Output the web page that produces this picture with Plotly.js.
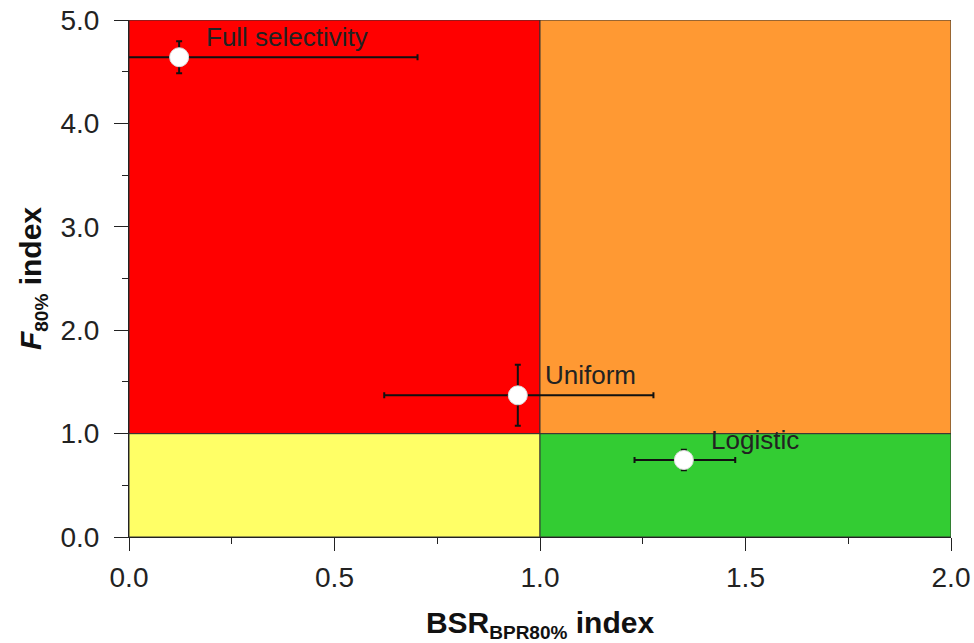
<!DOCTYPE html>
<html><head><meta charset="utf-8">
<script src="https://cdn.plot.ly/plotly-3.0.1.min.js"></script>
<style>html,body{margin:0;padding:0;background:#fff}#c{width:974px;height:643px}</style>
</head><body><div id="c"></div>
<script>
const names = ["Full selectivity", "Uniform", "Logistic"];
const bsr = [0.122, 0.946, 1.35];
const bsrErrPlus = [0.58, 0.33, 0.125];
const bsrErrMinus = [0.15, 0.325, 0.12];
const f80 = [4.64, 1.37, 0.745];
const f80Err = [0.155, 0.295, 0.1];
const xRange = [0, 2];
const yRange = [0, 5];
const xThreshold = 1;
const yThreshold = 1;
const zoneColors = {lowLeft: "#FFFF66", lowRight: "#33CC33", highLeft: "#FF0000", highRight: "#FF9933"};

const zoneLine = {color: "#333", width: 1};
const shapes = [
  {type: "rect", xref: "x", yref: "y", x0: xRange[0], x1: xThreshold, y0: yRange[0], y1: yThreshold, fillcolor: zoneColors.lowLeft, line: zoneLine, layer: "below"},
  {type: "rect", xref: "x", yref: "y", x0: xThreshold, x1: xRange[1], y0: yRange[0], y1: yThreshold, fillcolor: zoneColors.lowRight, line: zoneLine, layer: "below"},
  {type: "rect", xref: "x", yref: "y", x0: xRange[0], x1: xThreshold, y0: yThreshold, y1: yRange[1], fillcolor: zoneColors.highLeft, line: zoneLine, layer: "below"},
  {type: "rect", xref: "x", yref: "y", x0: xThreshold, x1: xRange[1], y0: yThreshold, y1: yRange[1], fillcolor: zoneColors.highRight, line: zoneLine, layer: "below"}
];

const trace = {
  type: "scatter", mode: "markers",
  x: bsr, y: f80,
  marker: {color: "#ffffff", size: 19, line: {color: "#dddddd", width: 1}},
  error_x: {type: "data", symmetric: false, array: bsrErrPlus, arrayminus: bsrErrMinus, color: "#111", thickness: 2, width: 3},
  error_y: {type: "data", array: f80Err, color: "#111", thickness: 2, width: 3},
  hoverinfo: "skip"
};

const fam = "Liberation Sans, Arial, sans-serif";
const annotations = names.map((n, i) => ({
  x: bsr[i], y: f80[i], xref: "x", yref: "y", text: n, showarrow: false,
  xanchor: "left", yanchor: "middle", xshift: 25, yshift: 20,
  font: {family: fam, size: 26, color: "#222"}
}));

const tickFont = {family: fam, size: 28, color: "#222"};
const layout = {
  width: 974, height: 643,
  margin: {l: 129, r: 23, t: 20, b: 106},
  paper_bgcolor: "#fff", plot_bgcolor: "#fff",
  showlegend: false,
  shapes: shapes,
  annotations: annotations,
  xaxis: {
    range: xRange, dtick: 0.5, tick0: 0, tickformat: ".1f",
    showgrid: false, zeroline: false, showline: true, linecolor: "#222", linewidth: 1,
    ticks: "outside", ticklen: 13, tickwidth: 1, tickcolor: "#222", ticklabelstandoff: 2,
    minor: {dtick: 0.25, ticks: "outside", ticklen: 6, tickcolor: "#222", showgrid: false},
    tickfont: tickFont, automargin: false,
    title: {text: "<b>BSR<sub><span style=\"font-size:19px\">BPR80%</span></sub> index</b>", font: {family: fam, size: 30, color: "#111"}, standoff: 20}
  },
  yaxis: {
    range: yRange, dtick: 1, tick0: 0, tickformat: ".1f", ticklabelstandoff: 9,
    showgrid: false, zeroline: false, showline: true, linecolor: "#222", linewidth: 1,
    ticks: "outside", ticklen: 14, tickwidth: 1, tickcolor: "#222",
    minor: {dtick: 0.5, ticks: "outside", ticklen: 6, tickcolor: "#222", showgrid: false},
    tickfont: tickFont, automargin: false,
    title: {text: "<b><i>F</i><sub><span style=\"font-size:19px\">80%</span></sub> index</b>", font: {family: fam, size: 30, color: "#111"}, standoff: 9}
  }
};

Plotly.newPlot("c", [trace], layout, {displayModeBar: false, staticPlot: true});
</script>
</body></html>
